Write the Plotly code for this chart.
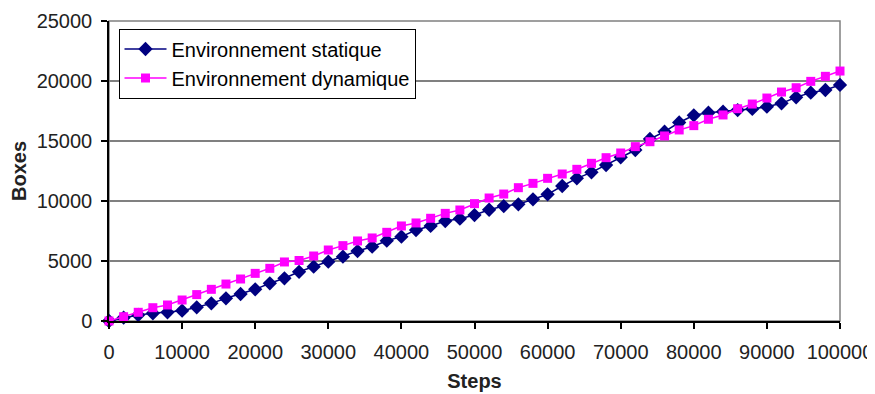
import plotly.graph_objects as go

steps = [0, 2000, 4000, 6000, 8000, 10000, 12000, 14000, 16000, 18000,
         20000, 22000, 24000, 26000, 28000, 30000, 32000, 34000, 36000, 38000,
         40000, 42000, 44000, 46000, 48000, 50000, 52000, 54000, 56000, 58000,
         60000, 62000, 64000, 66000, 68000, 70000, 72000, 74000, 76000, 78000,
         80000, 82000, 84000, 86000, 88000, 90000, 92000, 94000, 96000, 98000,
         100000]

statique = [0, 275, 500, 640, 725, 860, 1140, 1470, 1890, 2250,
            2640, 3140, 3560, 4100, 4530, 4940, 5360, 5830, 6190, 6690,
            7030, 7580, 7920, 8330, 8530, 8830, 9270, 9580, 9720, 10140,
            10560, 11250, 11890, 12390, 13000, 13640, 14250, 15170, 15780, 16540,
            17140, 17360, 17440, 17580, 17670, 17860, 18140, 18640, 19030, 19250,
            19670]

dynamique = [0, 358, 725, 1108, 1333, 1750, 2200, 2640, 3080, 3500,
             3970, 4390, 4920, 5040, 5417, 5917, 6280, 6670, 6920, 7390,
             7920, 8170, 8560, 8970, 9250, 9780, 10250, 10580, 11110, 11470,
             11890, 12250, 12640, 13140, 13610, 14000, 14530, 14940, 15420, 15920,
             16280, 16810, 17170, 17690, 18080, 18580, 19080, 19440, 19970, 20390,
             20830]

x_ticks = [0, 10000, 20000, 30000, 40000, 50000, 60000, 70000, 80000, 90000, 100000]
y_ticks = [0, 5000, 10000, 15000, 20000, 25000]

FONT = "Liberation Sans, Arial, sans-serif"

fig = go.Figure()
fig.add_trace(go.Scatter(
    x=steps, y=statique, name="Environnement statique", mode="lines+markers",
    line=dict(color="#000080", width=1.5),
    marker=dict(symbol="diamond", size=11, color="#000080"),
    cliponaxis=False))
fig.add_trace(go.Scatter(
    x=steps, y=dynamique, name="Environnement dynamique", mode="lines+markers",
    line=dict(color="#FF00FF", width=1.5),
    marker=dict(symbol="square", size=9, color="#FF00FF"),
    cliponaxis=False))

# page body has an 8px margin, so the figure is 8px smaller and margins shifted
fig.update_layout(
    width=867, height=386,
    margin=dict(l=101, r=35, t=13, b=73, autoexpand=False),
    paper_bgcolor="white", plot_bgcolor="white",
    font=dict(family=FONT, size=20, color="#222222"),
    showlegend=True,
    legend=dict(x=0.013, y=0.975, xanchor="left", yanchor="top",
                bgcolor="white", bordercolor="#000000", borderwidth=1,
                itemwidth=42,
                font=dict(size=20, color="#000000"), tracegroupgap=0),
    shapes=[dict(type="rect", xref="paper", yref="paper", x0=0, y0=0, x1=1, y1=1,
                 line=dict(color="#808080", width=1.5), layer="below")],
)

fig.update_xaxes(
    range=[0, 100000], tickvals=x_ticks, ticktext=[str(v) for v in x_ticks],
    automargin=False,
    showgrid=False, zeroline=False, showline=True, linecolor="#000000", linewidth=1.5,
    ticks="outside", ticklen=6, tickcolor="#000000", tickwidth=1.5,
    ticklabelstandoff=6,
    title=dict(text="<b>Steps</b>", font=dict(size=20, color="#222222"), standoff=12),
)
fig.update_yaxes(
    range=[0, 25000], tickvals=y_ticks, ticktext=[str(v) for v in y_ticks],
    automargin=False,
    showgrid=True, gridcolor="#808080", gridwidth=1.5,
    zeroline=False, showline=True, linecolor="#000000", linewidth=1.5,
    ticks="outside", ticklen=6, tickcolor="#000000", tickwidth=1.5,
    ticklabelstandoff=5,
    title=dict(text="<b>Boxes</b>", font=dict(size=20, color="#222222"), standoff=10),
)

fig.write_html("out.html")
